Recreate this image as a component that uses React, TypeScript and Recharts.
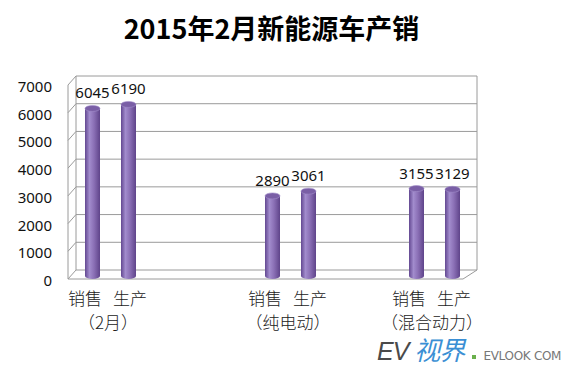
import React from 'react';
import { ComposedChart, Bar, XAxis, YAxis, CartesianGrid, LabelList } from 'recharts';

// one slot per bar position; empty slots make the gaps between the pairs
const categories = ['销售', '生产', '', '', '', '销售', '生产', '', '', '销售', '生产'];
const groupLabels = ['（2月）', '', '', '', '', '（纯电动）', '', '', '', '（混合动力）', ''];
const values: (number | null)[] = [6045, 6190, null, null, null, 2890, 3061, null, null, 3155, 3129];
const yTicks = [0, 1000, 2000, 3000, 4000, 5000, 6000, 7000];

const data = categories.map((name, i) => ({ name, value: values[i] }));

const W = 569;
const H = 370;
const TOP = 82;
const BOTTOM = 276;
const FRONT_L = 68;
const BACK_L = 76;
const BACK_R = 477;
const FRONT_R = 463;
const GRID = '#9a9a9a';

const cjk = '"Noto Sans CJK SC", "Noto Sans", sans-serif';
const num = '"Noto Sans", "Open Sans", sans-serif';

function GridLine(props: any) {
  const y = props.y1;
  const front = y + 3;
  const back = y - 6;
  const isFloor = Math.abs(y - BOTTOM) < 1;
  return (
    <g key={props.key}>
      <path d={`M${FRONT_L},${front} L${BACK_L},${back} L${BACK_R},${back}`} stroke={GRID} fill="none" />
      {isFloor && (
        <>
          <path d={`M${FRONT_L},${front} L${FRONT_R},${front} L${BACK_R},${back}`} stroke={GRID} fill="none" />
          <line x1={FRONT_L} y1={TOP + 3} x2={FRONT_L} y2={front} stroke={GRID} />
          <line x1={BACK_L} y1={TOP - 6} x2={BACK_L} y2={back} stroke={GRID} />
          <line x1={BACK_R} y1={TOP - 6} x2={BACK_R} y2={back} stroke={GRID} />
        </>
      )}
    </g>
  );
}

function Cylinder(props: any) {
  const { x, y, width, height } = props;
  if (height == null || height <= 0) return null;
  const cx = x + width / 2;
  const rx = width / 2;
  return (
    <g>
      <ellipse cx={cx} cy={y + height} rx={rx} ry={3} fill="url(#cylGrad)" />
      <rect x={x} y={y} width={width} height={height} fill="url(#cylGrad)" />
      <ellipse cx={cx} cy={y} rx={rx} ry={3} fill="#7a5fa6" stroke="#a38ecb" strokeWidth={0.6} />
    </g>
  );
}

function ValueLabel(props: any) {
  const { x, y, width, value } = props;
  if (value == null) return null;
  return (
    <text x={x + width / 2} y={y - 16} textAnchor="middle" dominantBaseline="central"
      fontFamily={num} fontSize={15} fill="#111">
      {value}
    </text>
  );
}

function CatTick(props: any) {
  const { x, payload } = props;
  const i = payload.index;
  if (!groupLabels[i]) return null;
  const mid = x + 18 - 3;
  const style = { fontFamily: cjk, fontWeight: 300, fontSize: 17, fill: '#222' };
  return (
    <g>
      <text x={mid - 22} y={BOTTOM + 21} textAnchor="middle" dominantBaseline="central" {...style}>
        {categories[i]}
      </text>
      <text x={mid + 23} y={BOTTOM + 21} textAnchor="middle" dominantBaseline="central" {...style}>
        {categories[i + 1]}
      </text>
      <text x={mid + 1} y={BOTTOM + 45} textAnchor="middle" dominantBaseline="central" {...style}>
        {groupLabels[i]}
      </text>
    </g>
  );
}

function ValTick(props: any) {
  const { y, payload } = props;
  return (
    <text x={52} y={y + 4} textAnchor="end" dominantBaseline="central"
      fontFamily={num} fontSize={15} fill="#111">
      {payload.value}
    </text>
  );
}

export default function App() {
  return (
    <div style={{ position: 'absolute', left: 0, top: 0, width: W, height: H, background: '#fff' }}>
      <div style={{
        position: 'absolute', left: 0, top: 9, width: 543, textAlign: 'center',
        fontFamily: cjk, fontWeight: 700, fontSize: 27, color: '#000', lineHeight: '38px',
      }}>
        2015年2月新能源车产销
      </div>
      <ComposedChart width={W} height={H} data={data}
        margin={{ top: TOP, right: W - 470, bottom: H - BOTTOM - 60, left: 0 }}>
        <defs>
          <linearGradient id="cylGrad" x1="0" y1="0" x2="1" y2="0">
            <stop offset="0%" stopColor="#634891" />
            <stop offset="30%" stopColor="#a28ccd" />
            <stop offset="60%" stopColor="#8a6fb5" />
            <stop offset="100%" stopColor="#5f448a" />
          </linearGradient>
        </defs>
        <CartesianGrid vertical={false} horizontal={(p: any) => <GridLine {...p} />} />
        <XAxis dataKey="name" interval={0} axisLine={false} tickLine={false} height={60} tick={<CatTick />} />
        <YAxis width={74} domain={[0, 7000]} ticks={yTicks} axisLine={false} tickLine={false} tick={<ValTick />} />
        <Bar dataKey="value" barSize={15} shape={<Cylinder />} isAnimationActive={false}>
          <LabelList dataKey="value" content={<ValueLabel />} />
        </Bar>
      </ComposedChart>
      <div style={{ position: 'absolute', left: 377, top: 335, height: 28, whiteSpace: 'nowrap', lineHeight: '28px' }}>
        <span style={{ fontFamily: '"Liberation Sans", sans-serif', fontSize: 25, color: '#4a4a4a', fontStyle: 'italic', letterSpacing: -1 }}>EV</span>
        <span style={{ fontFamily: cjk, fontSize: 26, color: '#3b8fd4', marginLeft: 6, fontStyle: 'italic', letterSpacing: -1 }}>视界</span>
        <span style={{ display: 'inline-block', width: 4, height: 4, background: '#6ab04c', marginLeft: 8, marginRight: 7, verticalAlign: 1 }} />
        <span style={{ fontFamily: '"DejaVu Sans", sans-serif', fontSize: 12, color: '#777', letterSpacing: -0.3 }}>EVLOOK COM</span>
      </div>
    </div>
  );
}
